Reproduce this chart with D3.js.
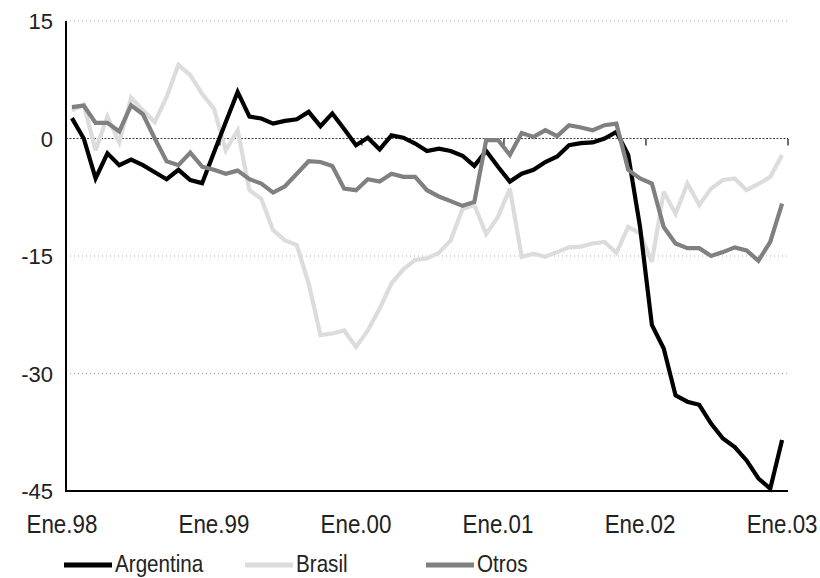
<!DOCTYPE html>
<html><head><meta charset="utf-8">
<script src="https://cdn.jsdelivr.net/npm/d3@7"></script>
<style>body{margin:0;background:#fff}svg{display:block}</style>
</head><body>
<svg id="c" width="820" height="578"></svg>
<script>
const yearLabels = ["Ene.98","Ene.99","Ene.00","Ene.01","Ene.02","Ene.03"];
const yTicks = [15, 0, -15, -30, -45];
const argentina = [2.6,0.0,-5.1,-1.9,-3.4,-2.7,-3.4,-4.3,-5.2,-4.0,-5.3,-5.7,
  -1.8,2.1,5.95,2.8,2.55,1.9,2.25,2.46,3.4,1.57,3.2,1.2,
  -0.86,0.1,-1.4,0.4,0.1,-0.64,-1.6,-1.3,-1.6,-2.2,-3.5,-1.6,
  -3.6,-5.5,-4.5,-4.0,-3.0,-2.3,-0.86,-0.6,-0.5,0.0,0.85,-2.1,
  -11.3,-23.8,-26.8,-32.8,-33.6,-34.0,-36.4,-38.3,-39.4,-41.1,-43.4,-44.7,-38.5];
const brasil = [3.6,4.3,-1.5,2.8,-0.5,5.2,3.6,2.1,5.3,9.4,8.1,5.7,
  3.8,-1.5,1.06,-6.6,-7.7,-11.7,-13.0,-13.6,-18.5,-25.1,-24.9,-24.5,
  -26.6,-24.5,-21.7,-18.5,-16.7,-15.5,-15.3,-14.6,-13.0,-9.0,-8.5,-12.2,
  -10.0,-6.4,-15.1,-14.7,-15.1,-14.5,-13.9,-13.8,-13.4,-13.2,-14.6,-11.3,
  -12.1,-15.75,-6.8,-9.6,-5.75,-8.5,-6.4,-5.3,-5.1,-6.6,-5.8,-4.9,-2.1];
const otros = [4.0,4.2,2.0,2.0,0.9,4.25,3.1,0.0,-2.9,-3.4,-1.8,-3.6,
  -4.0,-4.5,-4.1,-5.2,-5.75,-6.9,-6.1,-4.5,-2.9,-3.0,-3.5,-6.4,
  -6.6,-5.2,-5.5,-4.5,-4.9,-4.9,-6.6,-7.4,-8.0,-8.6,-8.1,-0.2,
  -0.2,-2.1,0.7,0.2,1.06,0.3,1.7,1.4,1.06,1.7,1.9,-4.0,
  -5.1,-5.75,-11.3,-13.4,-14.0,-14.0,-15.0,-14.5,-13.9,-14.3,-15.6,-13.2,-8.3];
const seriesNames = ["Argentina","Brasil","Otros"];

const svg = d3.select("#c");
const L = 66, R = 788, T = 21, B = 491;
const idx = d3.range(argentina.length);
const x = d3.scaleBand().domain(idx).range([L, R]).paddingInner(0).paddingOuter(0);
const xc = i => x(i) + x.bandwidth()/2;
const y = d3.scaleLinear().domain([-45, 15]).range([B, T]);
const narrowFont = "'Liberation Sans', Arial, sans-serif";
const SX = 0.86;

// gridlines
svg.append("g").selectAll("line").data([15, -15, -30]).join("line")
  .attr("x1", L).attr("x2", R).attr("y1", d => y(d)).attr("y2", d => y(d))
  .attr("stroke", "#aaa").attr("stroke-width", 1).attr("stroke-dasharray", "1,3");

// zero line (category axis) with ticks
svg.append("line").attr("x1", L).attr("x2", R).attr("y1", y(0)).attr("y2", y(0))
  .attr("stroke", "#444").attr("stroke-width", 1.2).attr("stroke-dasharray", "2,1.5");
const tickIdx = [12, 24, 36, 48, 60];
svg.append("g").selectAll("line").data(tickIdx).join("line")
  .attr("x1", d => x(d) + x.bandwidth()).attr("x2", d => x(d) + x.bandwidth())
  .attr("y1", y(0)).attr("y2", y(0) + 7)
  .attr("stroke", "#222").attr("stroke-width", 1.3);

// bottom line & left axis
svg.append("line").attr("x1", L).attr("x2", R).attr("y1", B).attr("y2", B)
  .attr("stroke", "#000").attr("stroke-width", 2);
svg.append("line").attr("x1", L).attr("x2", L).attr("y1", T).attr("y2", B + 1)
  .attr("stroke", "#000").attr("stroke-width", 2);

// y labels
svg.append("g").selectAll("text").data(yTicks).join("text")
  .attr("x", 53).attr("y", d => y(d) + 8)
  .attr("text-anchor", "end")
  .attr("font-family", "'Liberation Sans', Arial, sans-serif")
  .attr("font-size", 22).attr("fill", "#222")
  .text(d => d);

// x labels
svg.append("g").selectAll("text").data(yearLabels).join("text")
  .attr("transform", (d, i) => `translate(${xc(i * 12) - (i === 0 ? 10 : 0)},533) scale(${SX},1)`)
  .attr("text-anchor", "middle")
  .attr("font-family", narrowFont)
  .attr("font-size", 26).attr("fill", "#222")
  .text(d => d);

// series
const colors = {Argentina: "#000000", Brasil: "#dcdcdc", Otros: "#808080"};
const dataMap = {Argentina: argentina, Brasil: brasil, Otros: otros};
const line = d3.line().x((d, i) => xc(i)).y(d => y(d));
["Brasil", "Argentina", "Otros"].forEach(n => {
  svg.append("path").datum(dataMap[n]).attr("d", line)
    .attr("fill", "none").attr("stroke", colors[n]).attr("stroke-width", 4.2)
    .attr("stroke-linejoin", "miter").attr("stroke-miterlimit", 3);
});

// legend
const legX = [64, 245, 426];
const lg = svg.append("g");
seriesNames.forEach((n, i) => {
  lg.append("line").attr("x1", legX[i]).attr("x2", legX[i] + 48)
    .attr("y1", 565).attr("y2", 565).attr("stroke", colors[n]).attr("stroke-width", 5);
  lg.append("text").attr("transform", `translate(${legX[i] + 51},572) scale(${SX},1)`)
    .attr("font-family", narrowFont)
    .attr("font-size", 24).attr("fill", "#222").text(n);
});
</script>
</body></html>
